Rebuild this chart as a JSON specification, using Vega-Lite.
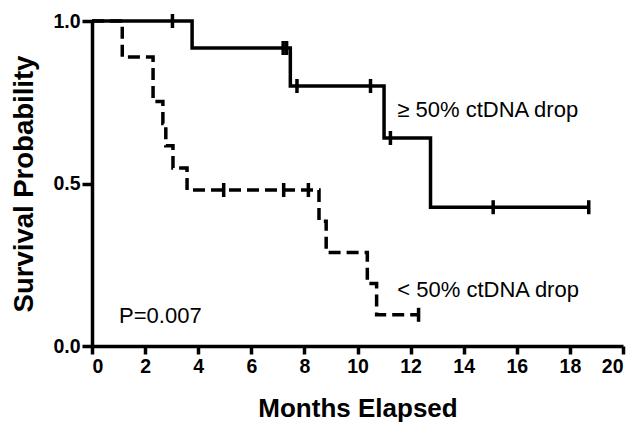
{
  "$schema": "https://vega.github.io/schema/vega-lite/v6.json",
  "width": 531,
  "height": 325,
  "autosize": {"type": "none"},
  "padding": {"left": 92, "top": 21, "right": 15, "bottom": 80},
  "background": "white",
  "config": {
    "view": {"stroke": null},
    "font": "Liberation Sans",
    "axis": {
      "domainColor": "black",
      "domainWidth": 3.5,
      "tickColor": "black",
      "tickWidth": 3.5,
      "grid": false,
      "labelFont": "Liberation Sans",
      "labelFontWeight": "bold",
      "labelFontSize": 19.5,
      "labelColor": "black",
      "titleFont": "Liberation Sans",
      "titleFontWeight": "bold",
      "titleFontSize": 26,
      "titleColor": "black"
    }
  },
  "datasets": {
    "curves": [
      {"group": "ge50", "months": 0, "surv": 1.0},
      {"group": "ge50", "months": 3.77, "surv": 0.917},
      {"group": "ge50", "months": 7.47, "surv": 0.8},
      {"group": "ge50", "months": 11.0, "surv": 0.64},
      {"group": "ge50", "months": 12.75, "surv": 0.427},
      {"group": "ge50", "months": 18.71, "surv": 0.427},
      {"group": "lt50", "months": 0, "surv": 1.0},
      {"group": "lt50", "months": 1.14, "surv": 0.889},
      {"group": "lt50", "months": 2.3, "surv": 0.752},
      {"group": "lt50", "months": 2.67, "surv": 0.685},
      {"group": "lt50", "months": 2.78, "surv": 0.616},
      {"group": "lt50", "months": 3.05, "surv": 0.548},
      {"group": "lt50", "months": 3.58, "surv": 0.48},
      {"group": "lt50", "months": 8.55, "surv": 0.384},
      {"group": "lt50", "months": 8.82, "surv": 0.288},
      {"group": "lt50", "months": 10.37, "surv": 0.192},
      {"group": "lt50", "months": 10.72, "surv": 0.096},
      {"group": "lt50", "months": 12.3, "surv": 0.096}
    ],
    "censors": [
      {"group": "ge50", "months": 3.03, "surv": 1.0},
      {"group": "ge50", "months": 7.2, "surv": 0.917},
      {"group": "ge50", "months": 7.33, "surv": 0.917},
      {"group": "ge50", "months": 7.72, "surv": 0.8},
      {"group": "ge50", "months": 10.49, "surv": 0.8},
      {"group": "ge50", "months": 11.24, "surv": 0.64},
      {"group": "ge50", "months": 15.11, "surv": 0.427},
      {"group": "ge50", "months": 18.71, "surv": 0.427},
      {"group": "lt50", "months": 4.96, "surv": 0.48},
      {"group": "lt50", "months": 7.22, "surv": 0.48},
      {"group": "lt50", "months": 8.15, "surv": 0.48},
      {"group": "lt50", "months": 12.3, "surv": 0.096}
    ],
    "notes": [
      {"months": 11.5, "surv": 0.705, "label": "≥ 50% ctDNA drop"},
      {"months": 11.5, "surv": 0.151, "label": "< 50% ctDNA drop"},
      {"months": 1.02, "surv": 0.071, "label": "P=0.007"}
    ]
  },
  "layer": [
    {
      "data": {"name": "curves"},
      "mark": {"type": "line", "interpolate": "step-after", "strokeWidth": 3.5, "color": "black"},
      "encoding": {
        "x": {
          "field": "months", "type": "quantitative",
          "scale": {"domain": [0, 20], "nice": false},
          "axis": {"title": "Months Elapsed", "values": [0, 2, 4, 6, 8, 10, 12, 14, 16, 18, 20], "format": "d", "tickSize": 8, "labelPadding": 3, "titlePadding": 20}
        },
        "y": {
          "field": "surv", "type": "quantitative",
          "scale": {"domain": [0, 1], "nice": false},
          "axis": {"title": "Survival Probability", "titleFontSize": 27.5, "values": [0, 0.5, 1], "format": ".1f", "tickSize": 10, "labelPadding": 2, "titlePadding": 14}
        },
        "detail": {"field": "group"},
        "strokeDash": {
          "field": "group", "type": "nominal",
          "scale": {"domain": ["ge50", "lt50"], "range": [[1, 0], [12, 6]]},
          "legend": null
        }
      }
    },
    {
      "data": {"name": "censors"},
      "mark": {"type": "tick", "orient": "vertical", "size": 14, "thickness": 3.5, "color": "black", "opacity": 1},
      "encoding": {
        "x": {"field": "months", "type": "quantitative"},
        "y": {"field": "surv", "type": "quantitative"}
      }
    },
    {
      "data": {"name": "notes"},
      "mark": {"type": "text", "align": "left", "baseline": "alphabetic", "fontSize": 22, "font": "Liberation Sans", "color": "black"},
      "encoding": {
        "x": {"field": "months", "type": "quantitative"},
        "y": {"field": "surv", "type": "quantitative"},
        "text": {"field": "label", "type": "nominal"}
      }
    }
  ]
}
